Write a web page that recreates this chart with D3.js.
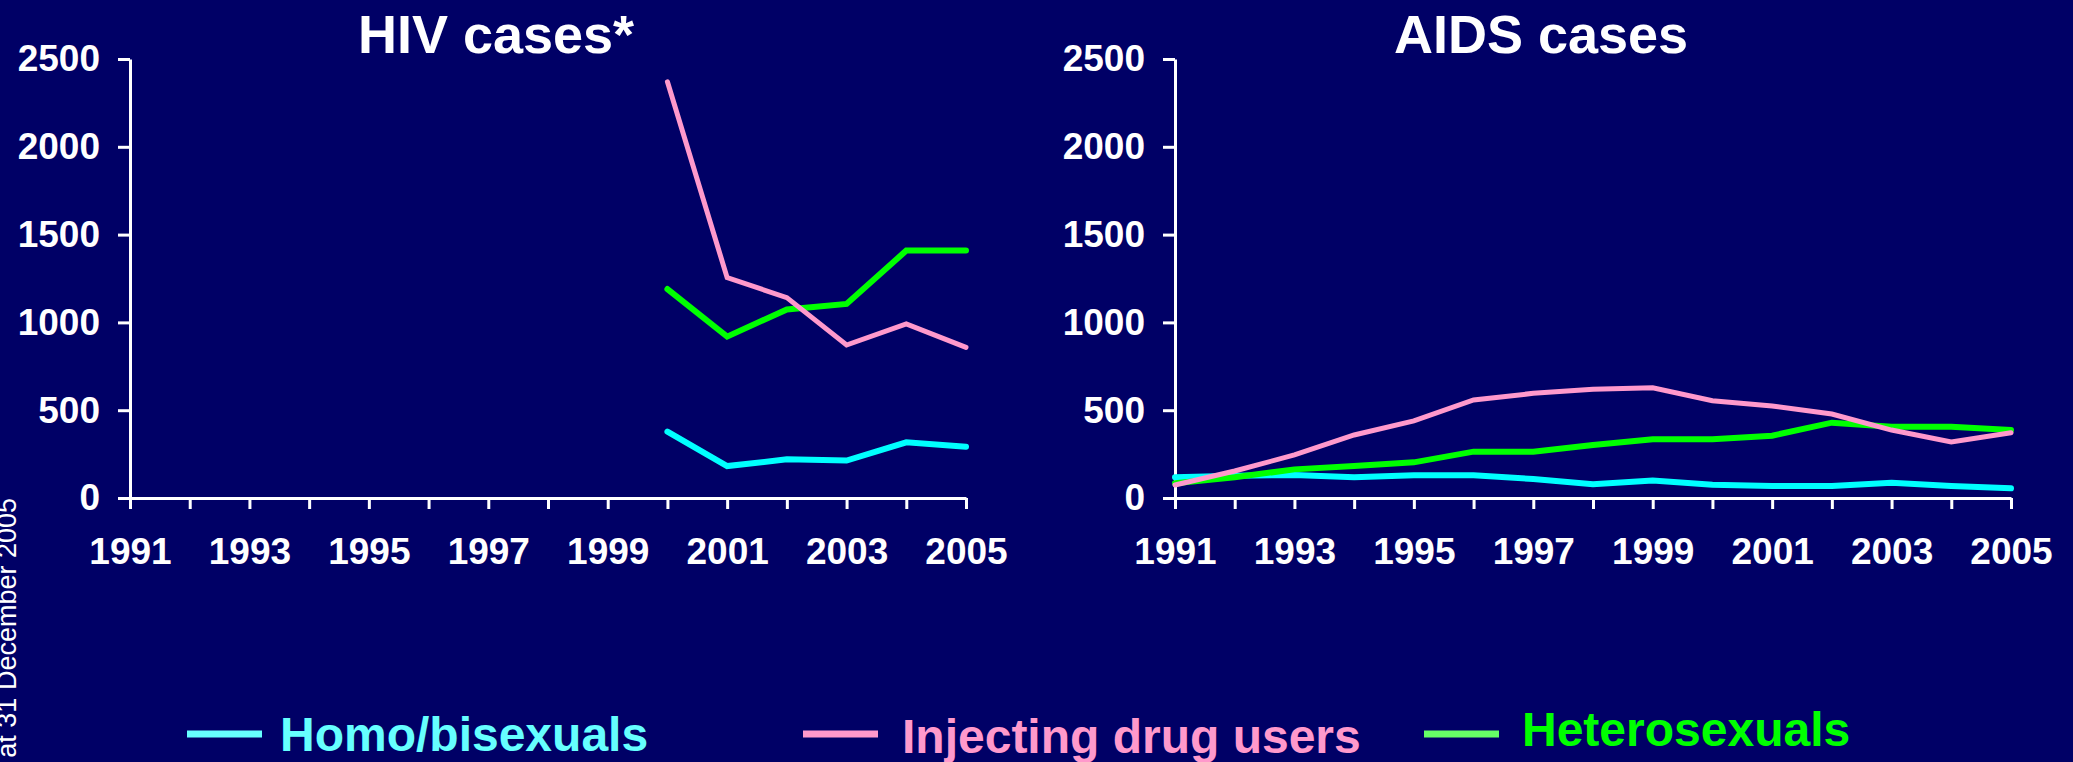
<!DOCTYPE html>
<html>
<head>
<meta charset="utf-8">
<script src="https://cdn.jsdelivr.net/npm/d3@7"></script>
<style>
  html, body { margin: 0; padding: 0; background: #000066; }
  svg { display: block; }
  text { font-family: "Liberation Sans", Arial, sans-serif; }
</style>
</head>
<body>
<svg id="chart" width="2073" height="762"></svg>
<script>
// ---- data ----
const hivYears = [2000, 2001, 2002, 2003, 2004, 2005];
const hivHomo = [378, 182, 220, 213, 317, 292];
const hivIDU = [2370, 1255, 1141, 871, 991, 858];
const hivHetero = [1190, 919, 1074, 1105, 1409, 1409];

const aidsYears = [1991, 1992, 1993, 1994, 1995, 1996, 1997, 1998, 1999, 2000, 2001, 2002, 2003, 2004, 2005];
const aidsHomo = [118, 127, 131, 118, 129, 129, 108, 78, 99, 76, 68, 68, 87, 68, 55];
const aidsIDU = [74, 154, 245, 359, 439, 558, 596, 619, 628, 554, 524, 478, 387, 319, 372];
const aidsHetero = [84, 118, 163, 182, 203, 264, 264, 302, 334, 334, 355, 429, 406, 406, 387];

const yTicks = [0, 500, 1000, 1500, 2000, 2500];
const xTickYears = [1991, 1992, 1993, 1994, 1995, 1996, 1997, 1998, 1999, 2000, 2001, 2002, 2003, 2004, 2005];
const seriesNames = ["Homo/bisexuals", "Injecting drug users", "Heterosexuals"];
const titles = ["HIV cases*", "AIDS cases"];
const footnote = "*Data as at 31 December 2005";

const lineColors = ["#00ffff", "#ff99cc", "#00ff00"];
const legendLineColors = ["#66ffff", "#ff99cc", "#66ff66"];
const legendTextColors = ["#66ffff", "#ff99cc", "#00ff00"];

// ---- drawing ----
const svg = d3.select("#chart");
svg.append("rect").attr("width", 2073).attr("height", 762).attr("fill", "#000066");

const y = d3.scaleLinear().domain([0, 2500]).range([498, 59]);

function panel(left, title, years, series) {
  const x = d3.scaleLinear().domain([1991, 2005]).range([left, left + 836]);
  const g = svg.append("g");

  // title
  g.append("text")
    .attr("x", left + 366).attr("y", 53)
    .attr("text-anchor", "middle")
    .attr("fill", "#ffffff")
    .attr("font-weight", "bold")
    .attr("font-size", 54)
    .text(title);

  // y axis
  const ya = g.append("g").attr("transform", `translate(${left},0)`)
    .call(d3.axisLeft(y).tickValues(yTicks).tickSize(12).tickSizeOuter(0).tickPadding(18).tickFormat(d3.format("d")));
  // x axis
  const xa = g.append("g").attr("transform", `translate(0,498)`)
    .call(d3.axisBottom(x).tickValues(xTickYears).tickSize(11).tickSizeOuter(0).tickPadding(30)
      .tickFormat(d => (d % 2 === 1 ? String(d) : "")));

  [ya, xa].forEach(a => {
    a.selectAll("path.domain").attr("stroke", "#ffffff").attr("stroke-width", 3);
    a.selectAll(".tick line").attr("stroke", "#ffffff").attr("stroke-width", 3);
    a.selectAll(".tick text")
      .attr("fill", "#ffffff")
      .attr("font-family", "'Liberation Sans', Arial, sans-serif")
      .attr("font-weight", "bold")
      .attr("font-size", 37);
  });
  xa.selectAll(".tick text").attr("dy", "0.71em").attr("y", 40);

  const line = d3.line().x((d, i) => x(years[i])).y(d => y(d));
  const order = [0, 2, 1];
  const widths = [6, 5, 6];
  order.forEach(k => {
    g.append("path")
      .datum(series[k])
      .attr("d", line)
      .attr("fill", "none")
      .attr("stroke", lineColors[k])
      .attr("stroke-width", widths[k])
      .attr("stroke-linejoin", "miter")
      .attr("stroke-linecap", "round");
  });
}

panel(130, titles[0], hivYears, [hivHomo, hivIDU, hivHetero]);
panel(1175, titles[1], aidsYears, [aidsHomo, aidsIDU, aidsHetero]);

// legend
const legendX = [187, 803, 1424];
const legendTextX = [280, 902, 1522];
const legendBase = [751, 753, 746];
seriesNames.forEach((name, i) => {
  svg.append("line")
    .attr("x1", legendX[i]).attr("x2", legendX[i] + 75)
    .attr("y1", 734).attr("y2", 734)
    .attr("stroke", legendLineColors[i])
    .attr("stroke-width", 7);
  svg.append("text")
    .attr("x", legendTextX[i]).attr("y", legendBase[i])
    .attr("fill", legendTextColors[i])
    .attr("font-weight", "bold")
    .attr("font-size", 48)
    .text(name);
});

// rotated footnote
svg.append("text")
  .attr("transform", "translate(16,498) rotate(-90)")
  .attr("text-anchor", "end")
  .attr("fill", "#ffffff")
  .attr("font-size", 27)
  .text(footnote);
</script>
</body>
</html>
